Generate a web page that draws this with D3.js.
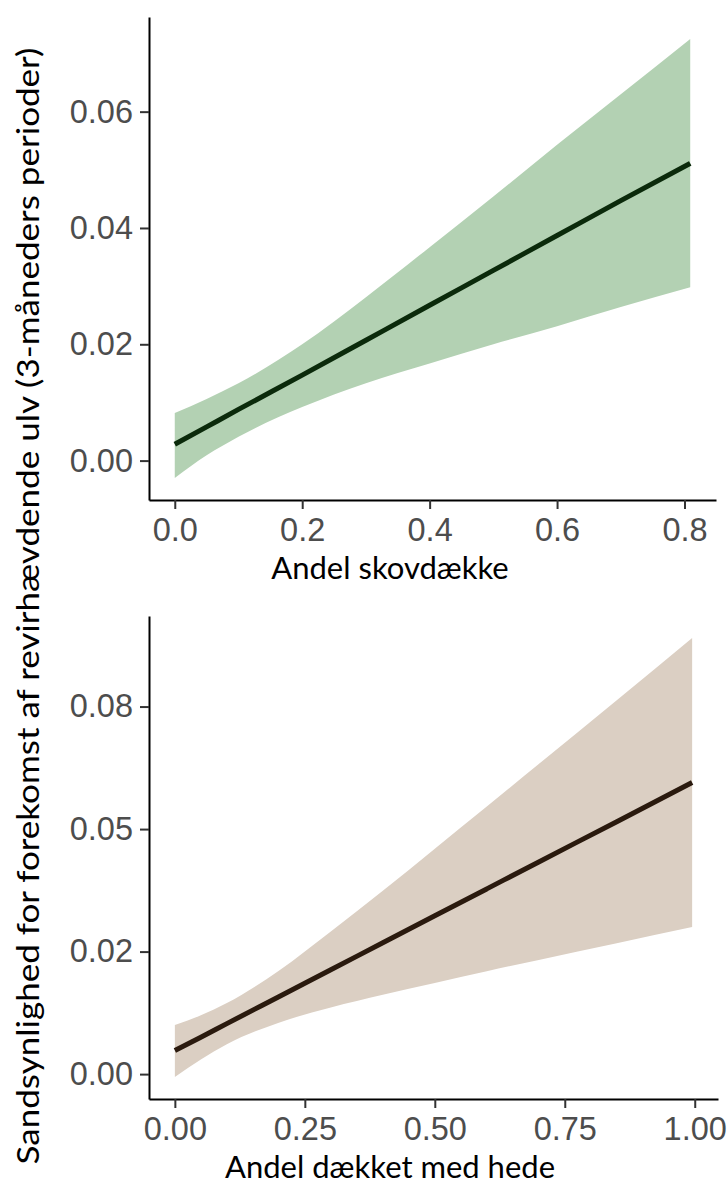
<!DOCTYPE html>
<html>
<head>
<meta charset="utf-8">
<script src="https://cdn.jsdelivr.net/npm/d3@7"></script>
<style>
  body { margin: 0; background: #fff; }
  .tick text { font-family: "Liberation Sans", Arial, sans-serif; font-size: 32.5px; fill: #4d4d4d; }
  .axis-title { font-family: Lato, "Open Sans", sans-serif; font-size: 31px; fill: #000; }
</style>
</head>
<body>
<svg id="chart"></svg>
<script>
var svgWidth = 728;
var svgHeight = 1185;

// top panel: forest cover
var skovX = [0, 0.05, 0.1, 0.2, 0.3, 0.4, 0.5, 0.6, 0.7, 0.809];
var skovFit = [0.0028, 0.0058, 0.0088, 0.0147, 0.0207, 0.0267, 0.0327, 0.0387, 0.0447, 0.0511];
var skovUpper = [0.0082, 0.0106, 0.0133, 0.0200, 0.0281, 0.0367, 0.0454, 0.0543, 0.0630, 0.0725];
var skovLower = [-0.0030, 0.0009, 0.0041, 0.0092, 0.0133, 0.0167, 0.0200, 0.0231, 0.0264, 0.0298];
var skovXTicks = [0, 0.2, 0.4, 0.6, 0.8];
var skovXLabels = ["0.0", "0.2", "0.4", "0.6", "0.8"];
var skovYTicks = [0, 0.02, 0.04, 0.06];
var skovYLabels = ["0.00", "0.02", "0.04", "0.06"];

// bottom panel: heath cover
var hedeX = [0, 0.05, 0.1, 0.2, 0.3, 0.4, 0.5, 0.6, 0.7, 0.85, 0.995];
var hedeFit = [0.0048, 0.0075, 0.0103, 0.0158, 0.0213, 0.0268, 0.0323, 0.0378, 0.0433, 0.0515, 0.0595];
var hedeUpper = [0.0100, 0.0120, 0.0145, 0.0211, 0.0291, 0.0374, 0.0460, 0.0546, 0.0633, 0.0763, 0.0890];
var hedeLower = [-0.0006, 0.0030, 0.0061, 0.0105, 0.0136, 0.0162, 0.0186, 0.0210, 0.0233, 0.0267, 0.0300];
var hedeXTicks = [0, 0.25, 0.5, 0.75, 1];
var hedeXLabels = ["0.00", "0.25", "0.50", "0.75", "1.00"];
var hedeYTicks = [0, 0.025, 0.05, 0.075];
var hedeYLabels = ["0.00", "0.02", "0.05", "0.08"];

var yTitle = "Sandsynlighed for forekomst af revirhævdende ulv (3-måneders perioder)";

var svg = d3.select("#chart")
  .attr("width", svgWidth)
  .attr("height", svgHeight);

// ggplot style 5% expansion of the data range
function expand(lo, hi) {
  var pad = (hi - lo) * 0.05;
  return [lo - pad, hi + pad];
}

function drawPanel(p) {
  var xs = d3.scaleLinear()
    .domain(expand(d3.min(p.x), d3.max(p.x)))
    .range([p.left, p.right]);
  var ys = d3.scaleLinear()
    .domain(expand(d3.min(p.lower), d3.max(p.upper)))
    .range([p.bottom, p.top]);

  var rows = p.x.map((x, i) => ({ x: x, fit: p.fit[i], lo: p.lower[i], hi: p.upper[i] }));

  // confidence band
  svg.append("path")
    .datum(rows)
    .attr("fill", p.band)
    .attr("d", d3.area()
      .curve(d3.curveMonotoneX)
      .x(d => xs(d.x))
      .y0(d => ys(d.lo))
      .y1(d => ys(d.hi)));

  // fitted line
  svg.append("path")
    .datum(rows)
    .attr("fill", "none")
    .attr("stroke", p.line)
    .attr("stroke-width", 5)
    .attr("d", d3.line()
      .curve(d3.curveMonotoneX)
      .x(d => xs(d.x))
      .y(d => ys(d.fit)));

  var xAxis = svg.append("g")
    .attr("transform", `translate(0, ${p.bottom})`)
    .call(d3.axisBottom(xs)
      .tickValues(p.xTicks)
      .tickFormat((d, i) => p.xLabels[i])
      .tickSize(9)
      .tickSizeOuter(0)
      .tickPadding(9));

  var yAxis = svg.append("g")
    .attr("transform", `translate(${p.left}, 0)`)
    .call(d3.axisLeft(ys)
      .tickValues(p.yTicks)
      .tickFormat((d, i) => p.yLabels[i])
      .tickSize(9)
      .tickSizeOuter(0)
      .tickPadding(7));

  [xAxis, yAxis].forEach(a => {
    a.select(".domain").attr("stroke", "#000").attr("stroke-width", 2);
    a.selectAll(".tick line").attr("stroke", "#333").attr("stroke-width", 2);
    a.attr("font-family", null).attr("font-size", null);
  });

  svg.append("text")
    .attr("class", "axis-title")
    .attr("x", 390)
    .attr("y", p.titleY)
    .attr("text-anchor", "middle")
    .text(p.title);
}

drawPanel({
  x: skovX, fit: skovFit, upper: skovUpper, lower: skovLower,
  xTicks: skovXTicks, xLabels: skovXLabels, yTicks: skovYTicks, yLabels: skovYLabels,
  left: 149, right: 716, top: 17, bottom: 500, titleY: 579,
  band: "#b3d1b3", line: "#0b2a0b", title: "Andel skovdække"
});

drawPanel({
  x: hedeX, fit: hedeFit, upper: hedeUpper, lower: hedeLower,
  xTicks: hedeXTicks, xLabels: hedeXLabels, yTicks: hedeYTicks, yLabels: hedeYLabels,
  left: 149, right: 718, top: 616, bottom: 1099, titleY: 1178,
  band: "#dbcfc3", line: "#2a1a0e", title: "Andel dækket med hede"
});

// shared y title, stretched along its length like the original figure
svg.append("text")
  .attr("class", "axis-title")
  .attr("transform", "translate(39, 606) rotate(-90) scale(1.13, 1)")
  .attr("text-anchor", "middle")
  .text(yTitle);
</script>
</body>
</html>
